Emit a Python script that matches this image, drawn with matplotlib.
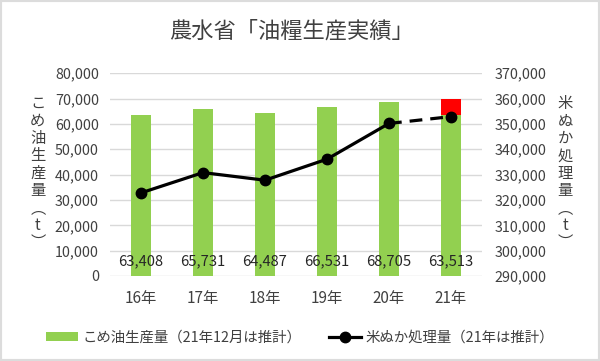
import matplotlib.pyplot as plt
from matplotlib.lines import Line2D
from matplotlib.patches import Patch, Rectangle

plt.rcParams['font.family'] = ['Noto Sans CJK JP', 'DejaVu Sans']

years = ["16年", "17年", "18年", "19年", "20年", "21年"]
oil = [63408, 65731, 64487, 66531, 68705, 63513]
oil_estimate = [0, 0, 0, 0, 0, 6300]   # red part on top of 21年
bran = [322800, 330800, 327800, 336100, 350200, 352900]

green = "#92d050"
red = "#ff0000"
text_col = "#404040"
grid_col = "#d9d9d9"

fig = plt.figure(figsize=(6, 3.61), dpi=100)
fig.patches.append(Rectangle((0, 0), 1, 1, transform=fig.transFigure,
                             fill=False, edgecolor="#dcdcdc", linewidth=3))
ax = fig.add_axes([0.1833, 0.2355, 0.62, 0.5615])
ax2 = ax.twinx()

x = list(range(len(years)))
ax.bar(x, oil, width=0.32, color=green, zorder=2)
ax.bar(x, oil_estimate, width=0.32, bottom=oil, color=red, zorder=2)
for i, v in enumerate(oil):
    ax.text(i, 5700, f"{v:,}", ha="center", va="center", fontsize=10.6,
            color="#262626", zorder=3)

ax.set_ylim(0, 80000)
ax.set_yticks(range(0, 80001, 10000))
ax.set_yticklabels([f"{v:,}" for v in range(0, 80001, 10000)])
ax.set_xlim(-0.5, 5.5)
ax.set_xticks(x)
ax.set_xticklabels(years)
ax.grid(axis="y", color=grid_col, linewidth=1, zorder=0)
ax.set_axisbelow(True)

ax2.plot(x[:5], bran[:5], color="black", linewidth=2.3, marker="o",
         markersize=7.5, zorder=4)
ax2.plot(x[4:], bran[4:], color="black", linewidth=2.3, linestyle=(0, (4, 2.5)),
         zorder=4)
ax2.plot(x[5:], bran[5:], color="black", marker="o", markersize=7.5,
         linestyle="none", zorder=4)
ax2.set_ylim(290000, 370000)
ax2.set_yticks(range(290000, 370001, 10000))
ax2.set_yticklabels([f"{v:,}" for v in range(290000, 370001, 10000)])

for a in (ax, ax2):
    for s in a.spines.values():
        s.set_visible(False)
    a.tick_params(length=0, labelsize=10.3, labelcolor=text_col)
ax.tick_params(axis="y", pad=8)
ax2.tick_params(axis="y", pad=9)
ax.tick_params(axis="x", pad=10, labelsize=11)

fig.text(0.485, 0.915, "農水省「油糧生産実績」", ha="center", va="center",
         fontsize=16, color=text_col)

left_label = "こめ油生産量︵t︶"
right_label = "米ぬか処理量︵t︶"
fig.text(0.063, 0.52, "\n".join(left_label), ha="center", va="center",
         fontsize=11, color=text_col, linespacing=1.03)
fig.text(0.942, 0.52, "\n".join(right_label), ha="center", va="center",
         fontsize=11, color=text_col, linespacing=1.03)

handles = [Patch(facecolor=green, edgecolor="none"),
           Line2D([], [], color="black", linewidth=2.3, marker="o", markersize=7.5)]
labels = ["こめ油生産量（21年12月は推計）", "米ぬか処理量（21年は推計）"]
fig.legend(handles, labels, loc="center", bbox_to_anchor=(0.5, 0.065), ncol=2,
           frameon=False, fontsize=10.4, handlelength=2.2, handleheight=0.6,
           columnspacing=1.9, handletextpad=0.3, labelcolor=text_col)

fig.savefig("out.png", dpi=100)
